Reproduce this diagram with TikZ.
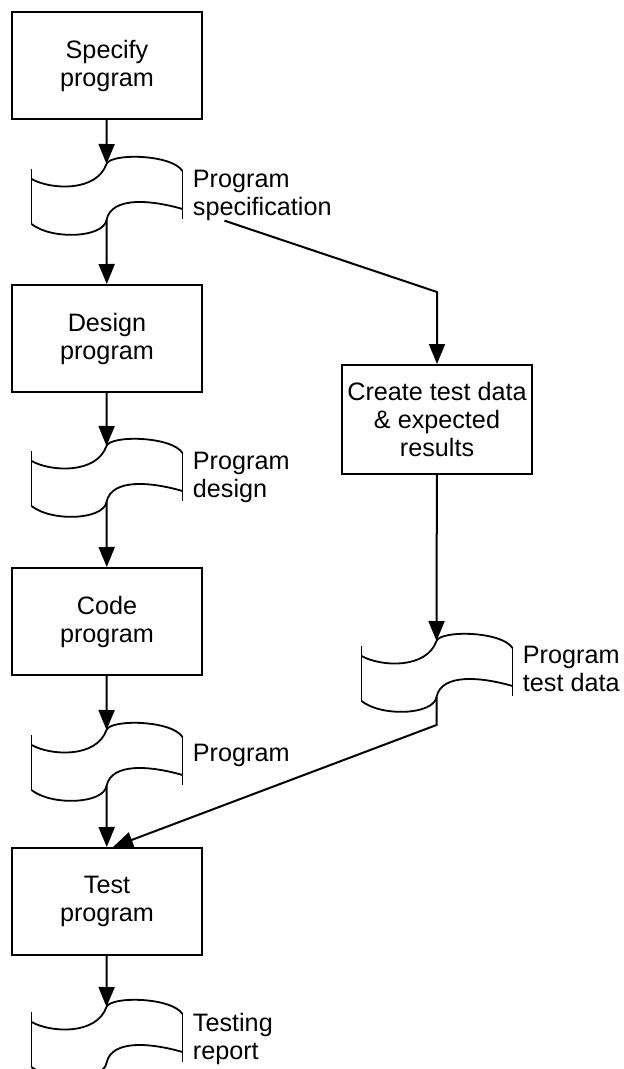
\documentclass[tikz,border=0pt]{standalone}
\usepackage{fontspec}
\setmainfont{Liberation Sans}
\usetikzlibrary{arrows.meta, positioning, calc}
\tikzset{
  procbox/.style={rectangle, draw=black, line width=1pt, minimum width=95pt,
                  minimum height=53.5pt, align=center, inner sep=1pt, fill=white},
  docnode/.style={rectangle, inner sep=0pt, outer sep=0pt,
                  minimum width=75.5pt, minimum height=39.5pt},
  doclabel/.style={align=left, inner sep=0pt, anchor=west},
  arrow/.style={-{Triangle[length=10pt, width=8pt]}, line width=1pt},
  tape/.style={line width=0.9pt, line join=round},
}

\begin{document}
\begin{tikzpicture}[x=0.5pt, y=-0.5pt, font=\fontsize{12.6}{14}\selectfont]
\useasboundingbox (0,0) rectangle (624,1069);

% ── left column: process steps ───────────────────────────────
\node[procbox] (spec) at (107,65.5) {Specify\\program};
\node[docnode, below=19pt of spec] (d1) {};
\node[procbox, below=23.5pt of d1] (design) {Design\\program};
\node[docnode, below=23.5pt of design] (d2) {};
\node[procbox, below=24pt of d2] (code) {Code\\program};
\node[docnode, below=24pt of code] (d3) {};
\node[procbox, below=22pt of d3] (test) {Test\\program};
\node[docnode, below=22.5pt of test] (d4) {};

% ── right column: test data ──────────────────────────────────
\node[procbox, minimum height=54.5pt] (create) at (437,419.5)
  {Create test data\\\& expected\\results};
\node[docnode, below=80pt of create] (dt) {};

% ── document symbols and their labels ────────────────────────
\foreach \d/\txt/\dy in {d1/{Program\\specification}/37,
                         d2/{Program\\design}/37,
                         d3/{Program}/31,
                         d4/{Testing\\report}/38,
                         dt/{Program\\test data}/34} {
  \begin{scope}[shift={(\d.north west)}]
    \draw[tape] (0,11) -- (0,66);
    \draw[tape] (151,13) -- (151,61);
    \draw[tape] (0,21) .. controls (20,32) and (65,34) .. (75,6)
                .. controls (79,-5) and (140,-4) .. (151,13);
    \draw[tape] (151,51) .. controls (120,42) and (80,38) .. (75,62)
                .. controls (72,80) and (20,82) .. (0,66);
    \coordinate (\d-in) at (75,6);
    \coordinate (\d-out) at (75,62);
    \node[doclabel] (\d-lbl) at (161,\dy) {\txt};
  \end{scope}
}

% ── main flow ────────────────────────────────────────────────
\draw[arrow] (spec) -- (d1-in);
\draw[arrow] (d1-out) -- (design);
\draw[arrow] (design) -- (d2-in);
\draw[arrow] (d2-out) -- (code);
\draw[arrow] (code) -- (d3-in);
\draw[arrow] (d3-out) -- (test);
\draw[arrow] (test) -- (d4-in);

% ── side branch ──────────────────────────────────────────────
\draw[arrow] ($(d1-lbl.south west)+(16pt,0)$) -- ($(create.north)+(0,36pt)$) -- (create);
\draw[arrow] (create) -- (dt-in);
\draw[arrow] (dt-out) -- ($(dt-out)+(0,-14pt)$) -- ($(test.north)+(3pt,0)$);

\end{tikzpicture}
\end{document}
